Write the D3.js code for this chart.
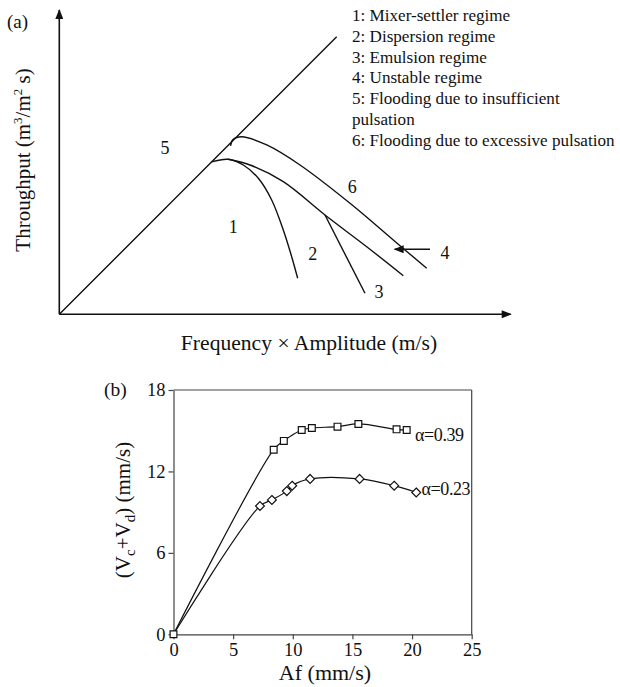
<!DOCTYPE html>
<html lang="en">
<head>
    <meta charset="UTF-8">
    <title>Pulsed column regimes</title>
    <script src="https://cdn.jsdelivr.net/npm/d3@7/dist/d3.min.js"></script>
    <style>
        body { margin: 0; background: #fff; }
        text { font-family: "Times New Roman", "Liberation Serif", serif; fill: #111; }
    </style>
</head>
<body>

    <script>

        // ---- panel (a) : schematic operating regimes (arbitrary units 0-100) ----
        var diagonal = [[0, 0], [61.45, 91.2]];
        var regime1Curve = [[33.76, 50.1], [37.44, 50.94], [40.76, 49.06], [44.09, 44.69],
                            [47.05, 37.56], [49.62, 27.7], [51.48, 18.93], [52.81, 11.83]];
        var regime2Curve = [[37.44, 50.94], [42.25, 49.06], [49.62, 43.58], [58.86, 32.62],
                            [68.1, 22.21], [76.21, 12.68]];
        var regime3Line = [[58.86, 32.62], [67.72, 6.9]];
        var regime6Curve = [[37.93, 55.31], [38.48, 57.43], [40.41, 58.36], [45.95, 55.64],
                            [53.32, 49.06], [64.4, 36.48], [73.99, 24.42], [81.39, 15.12]];
        var arrow4 = [[82.12, 21.36], [74.3, 21.36]];
        var regionLabels = [
            {t: "1", x: 38.55, y: 28.79}, {t: "2", x: 56.14, y: 20.05},
            {t: "3", x: 70.82, y: 7.43},  {t: "4", x: 85.45, y: 20.14},
            {t: "5", x: 23.42, y: 54.65}, {t: "6", x: 64.91, y: 41.93}
        ];
        var legendLines = [
            "1: Mixer-settler regime",
            "2: Dispersion regime",
            "3: Emulsion regime",
            "4: Unstable regime",
            "5: Flooding due to insufficient",
            "pulsation",
            "6: Flooding due to excessive pulsation"
        ];

        // ---- panel (b) : measured throughput vs Af ----
        var af039 = [0, 8.4, 9.25, 10.75, 11.6, 13.75, 15.5, 18.7, 19.55];
        var v039  = [0, 13.6, 14.25, 15.05, 15.2, 15.3, 15.5, 15.1, 15.05];
        var af023 = [0, 7.25, 8.25, 9.5, 9.95, 11.45, 15.6, 18.5, 20.35];
        var v023  = [0, 9.45, 9.9, 10.55, 10.95, 11.45, 11.45, 10.95, 10.45];
        var xTicksB = [0, 5, 10, 15, 20, 25];
        var yTicksB = [0, 6, 12, 18];

        var width = 620;
        var height = 687;
        var svg = d3.select("body")
            .append("svg")
            .attr("width", width)
            .attr("height", height);

        var defs = svg.append("defs");
        defs.append("marker")
            .attr("id", "arrow")
            .attr("viewBox", "0 0 10 8")
            .attr("refX", 9)
            .attr("refY", 4)
            .attr("markerWidth", 11)
            .attr("markerHeight", 8)
            .attr("markerUnits", "userSpaceOnUse")
            .attr("orient", "auto")
            .append("path")
            .attr("d", "M0,0 L10,4 L0,8 Z")
            .style("fill", "#111");

        // ===================== (a) =====================
        var xA = d3.scaleLinear().domain([0, 100]).range([59.3, 510.7]);
        var yA = d3.scaleLinear().domain([0, 100]).range([314.3, 10]);
        var gA = svg.append("g");

        // axes with arrow heads
        gA.append("line")
            .attr("x1", xA(0)).attr("y1", yA(0))
            .attr("x2", xA(0)).attr("y2", yA(100))
            .attr("stroke", "#111").attr("stroke-width", 1.6)
            .attr("marker-end", "url(#arrow)");
        gA.append("line")
            .attr("x1", xA(0)).attr("y1", yA(0))
            .attr("x2", xA(100)).attr("y2", yA(0))
            .attr("stroke", "#111").attr("stroke-width", 1.6)
            .attr("marker-end", "url(#arrow)");

        var straight = d3.line().x(function (d) { return xA(d[0]); }).y(function (d) { return yA(d[1]); });
        var smooth = d3.line().x(function (d) { return xA(d[0]); }).y(function (d) { return yA(d[1]); })
            .curve(d3.curveCatmullRom.alpha(0.5));

        [diagonal, regime3Line].forEach(function (pts) {
            gA.append("path").attr("d", straight(pts))
                .attr("fill", "none").attr("stroke", "#111").attr("stroke-width", 1.4);
        });
        [regime1Curve, regime2Curve, regime6Curve].forEach(function (pts) {
            gA.append("path").attr("d", smooth(pts))
                .attr("fill", "none").attr("stroke", "#111").attr("stroke-width", 1.4);
        });
        gA.append("path").attr("d", straight(arrow4))
            .attr("fill", "none").attr("stroke", "#111").attr("stroke-width", 1.4)
            .attr("marker-end", "url(#arrow)");

        gA.selectAll("text.region")
            .data(regionLabels)
            .enter()
            .append("text")
            .attr("class", "region")
            .attr("x", function (d) { return xA(d.x); })
            .attr("y", function (d) { return yA(d.y); })
            .attr("dy", "0.35em")
            .attr("text-anchor", "middle")
            .style("font-size", "18px")
            .text(function (d) { return d.t; });

        gA.selectAll("text.legend")
            .data(legendLines)
            .enter()
            .append("text")
            .attr("class", "legend")
            .attr("x", 352)
            .attr("y", function (d, i) { return 21 + i * 20.8; })
            .style("font-size", "17.1px")
            .text(function (d) { return d; });

        svg.append("text").attr("x", 7).attr("y", 28).style("font-size", "19px").text("(a)");

        var ylabA = svg.append("text")
            .attr("transform", "translate(30,160) rotate(-90)")
            .attr("text-anchor", "middle")
            .style("font-size", "21px");
        ylabA.append("tspan").text("Throughput (m");
        ylabA.append("tspan").attr("dy", -8).style("font-size", "13px").text("3");
        ylabA.append("tspan").attr("dy", 8).text("/m");
        ylabA.append("tspan").attr("dy", -8).style("font-size", "13px").text("2");
        ylabA.append("tspan").attr("dy", 8).text(" s)");

        svg.append("text")
            .attr("x", 309).attr("y", 350)
            .attr("text-anchor", "middle")
            .style("font-size", "21.6px")
            .text("Frequency \u00d7 Amplitude (m/s)");

        // ===================== (b) =====================
        var xB = d3.scaleLinear().domain([0, 25]).range([173.5, 471.7]);
        var yB = d3.scaleLinear().domain([0, 18]).range([634.3, 390]);
        var gB = svg.append("g");

        // frame top / right
        gB.append("line").attr("x1", xB(0)).attr("x2", xB(25)).attr("y1", yB(18)).attr("y2", yB(18))
            .attr("stroke", "#444").attr("stroke-width", 1.2);
        gB.append("line").attr("x1", xB(25)).attr("x2", xB(25)).attr("y1", yB(0)).attr("y2", yB(18))
            .attr("stroke", "#444").attr("stroke-width", 1.2);

        var xAxisB = gB.append("g")
            .attr("transform", "translate(0," + yB(0) + ")")
            .call(d3.axisBottom(xB).tickValues(xTicksB).tickSize(5).tickSizeOuter(0).tickPadding(4));
        var yAxisB = gB.append("g")
            .attr("transform", "translate(" + xB(0) + ",0)")
            .call(d3.axisLeft(yB).tickValues(yTicksB).tickSize(5).tickSizeOuter(0).tickPadding(3));
        [xAxisB, yAxisB].forEach(function (ax) {
            ax.selectAll("path, line").attr("stroke", "#444").attr("stroke-width", 1.2);
            ax.selectAll("text")
                .style("font-family", "'Times New Roman', 'Liberation Serif', serif")
                .style("font-size", "18.5px")
                .attr("fill", "#111");
        });

        var series = [
            {xs: af039, ys: v039, shape: "square", label: "\u03b1=0.39", lx: 415, ly: 435},
            {xs: af023, ys: v023, shape: "diamond", label: "\u03b1=0.23", lx: 421.5, ly: 488.5}
        ];
        var lineB = d3.line()
            .x(function (d) { return xB(d[0]); })
            .y(function (d) { return yB(d[1]); })
            .curve(d3.curveCatmullRom.alpha(0.5));

        // lines first, then markers on top
        series.forEach(function (s) {
            var pts = s.xs.map(function (x, i) { return [x, s.ys[i]]; });
            gB.append("path").attr("d", lineB(pts))
                .attr("fill", "none").attr("stroke", "#111").attr("stroke-width", 1.2);
        });
        series.slice().reverse().forEach(function (s) {
            var pts = s.xs.map(function (x, i) { return [x, s.ys[i]]; });
            // the origin point is shared; only the square is visible there
            if (s.shape === "diamond") pts = pts.slice(1);
            var sym = d3.symbol().type(s.shape === "square" ? d3.symbolSquare : d3.symbolDiamond2)
                .size(s.shape === "square" ? 46 : 50);
            gB.selectAll(null)
                .data(pts)
                .enter()
                .append("path")
                .attr("transform", function (d) { return "translate(" + xB(d[0]) + "," + yB(d[1]) + ")"; })
                .attr("d", sym)
                .attr("fill", "#fff")
                .attr("stroke", "#111")
                .attr("stroke-width", 1.2);
            gB.append("text")
                .attr("x", s.lx).attr("y", s.ly)
                .attr("dy", "0.35em")
                .style("font-size", "18px")
                .style("letter-spacing", "-0.4px")
                .text(s.label);
        });

        svg.append("text").attr("x", 104).attr("y", 396).style("font-size", "19.5px").text("(b)");

        var ylabB = svg.append("text")
            .attr("transform", "translate(130,510) rotate(-90)")
            .attr("text-anchor", "middle")
            .style("font-size", "21px");
        ylabB.append("tspan").text("(V");
        ylabB.append("tspan").attr("dy", 5).style("font-size", "15px").text("c");
        ylabB.append("tspan").attr("dy", -5).text("+V");
        ylabB.append("tspan").attr("dy", 5).style("font-size", "15px").text("d");
        ylabB.append("tspan").attr("dy", -5).text(") (mm/s)");

        svg.append("text")
            .attr("x", 325).attr("y", 680)
            .attr("text-anchor", "middle")
            .style("font-size", "22px")
            .text("Af (mm/s)");

    </script>
</body>
</html>
